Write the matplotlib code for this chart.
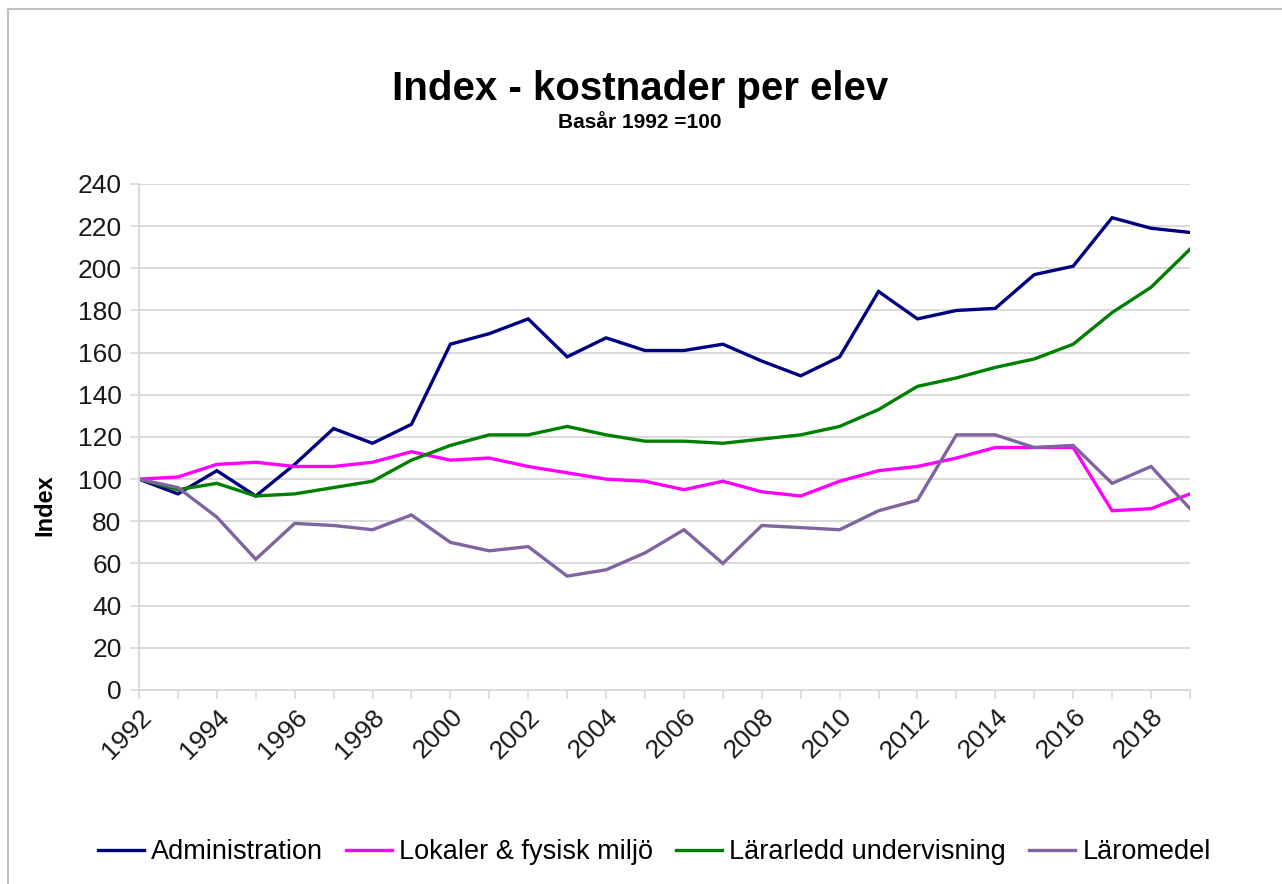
import matplotlib.pyplot as plt
from matplotlib.lines import Line2D

plt.rcParams['font.family'] = ['Liberation Sans', 'DejaVu Sans']

years = list(range(1992, 2020))
administration = [100, 93, 104, 92, 107, 124, 117, 126, 164, 169, 176, 158, 167, 161,
                  161, 164, 156, 149, 158, 189, 176, 180, 181, 197, 201, 224, 219, 217]
lokaler = [100, 101, 107, 108, 106, 106, 108, 113, 109, 110, 106, 103, 100, 99,
           95, 99, 94, 92, 99, 104, 106, 110, 115, 115, 115, 85, 86, 93]
lararledd = [100, 95, 98, 92, 93, 96, 99, 109, 116, 121, 121, 125, 121, 118,
             118, 117, 119, 121, 125, 133, 144, 148, 153, 157, 164, 179, 191, 209]
laromedel = [100, 96, 82, 62, 79, 78, 76, 83, 70, 66, 68, 54, 57, 65,
             76, 60, 78, 77, 76, 85, 90, 121, 121, 115, 116, 98, 106, 86]

series_names = ['Administration', 'Lokaler & fysisk miljö', 'Lärarledd undervisning', 'Läromedel']
series_colors = ['#000080', '#FF00FF', '#008000', '#8064A2']

fig = plt.figure(figsize=(12.82, 8.84), dpi=100)
ax = fig.add_axes([0.1084, 0.2195, 0.8198, 0.5724])

for vals, name, col in zip([administration, lokaler, lararledd, laromedel], series_names, series_colors):
    ax.plot(years, vals, color=col, lw=2.4, label=name, solid_joinstyle='miter')

ax.set_xlim(1992, 2019)
ax.set_ylim(0, 240)
ax.set_yticks(range(0, 241, 20))
ax.set_xticks(years)
ax.set_xticklabels([str(y) if y % 2 == 0 else '' for y in years], rotation=45, ha='right',
                   rotation_mode='anchor')
ax.grid(axis='y', color='#d9d9d9', lw=1.4)
ax.set_axisbelow(True)
for s in ['top', 'right']:
    ax.spines[s].set_visible(False)
for s in ['left', 'bottom']:
    ax.spines[s].set_color('#d9d9d9')
    ax.spines[s].set_linewidth(1.4)
ax.tick_params(axis='both', colors='#d9d9d9', length=6.5, width=1.2, labelcolor='#1a1a1a', labelsize=19)
ax.tick_params(axis='x', pad=4)
ax.tick_params(axis='y', pad=6)

fig.text(0.499, 1 - 89 / 884, 'Index - kostnader per elev', ha='center', va='center',
         fontsize=29, fontweight='bold')
fig.text(0.499, 1 - 123 / 884, 'Basår 1992 =100', ha='center', va='center',
         fontsize=15, fontweight='bold')
fig.text(45 / 1282, 1 - 505 / 884, 'Index', rotation=90, ha='center', va='center',
         fontsize=17, fontweight='bold')

fig.legend(loc='center', bbox_to_anchor=(0.5105, 1 - 852 / 884), ncol=4, frameon=False,
           fontsize=19.5, handlelength=1.7, handletextpad=0.26, columnspacing=0.85)

# chart border
fig.add_artist(Line2D([8 / 1282, 1], [1 - 9 / 884, 1 - 9 / 884], color='#c0c0c0', lw=1.5))
fig.add_artist(Line2D([8 / 1282, 8 / 1282], [0, 1 - 9 / 884], color='#c0c0c0', lw=1.5))

fig.savefig('out.png', dpi=100)
